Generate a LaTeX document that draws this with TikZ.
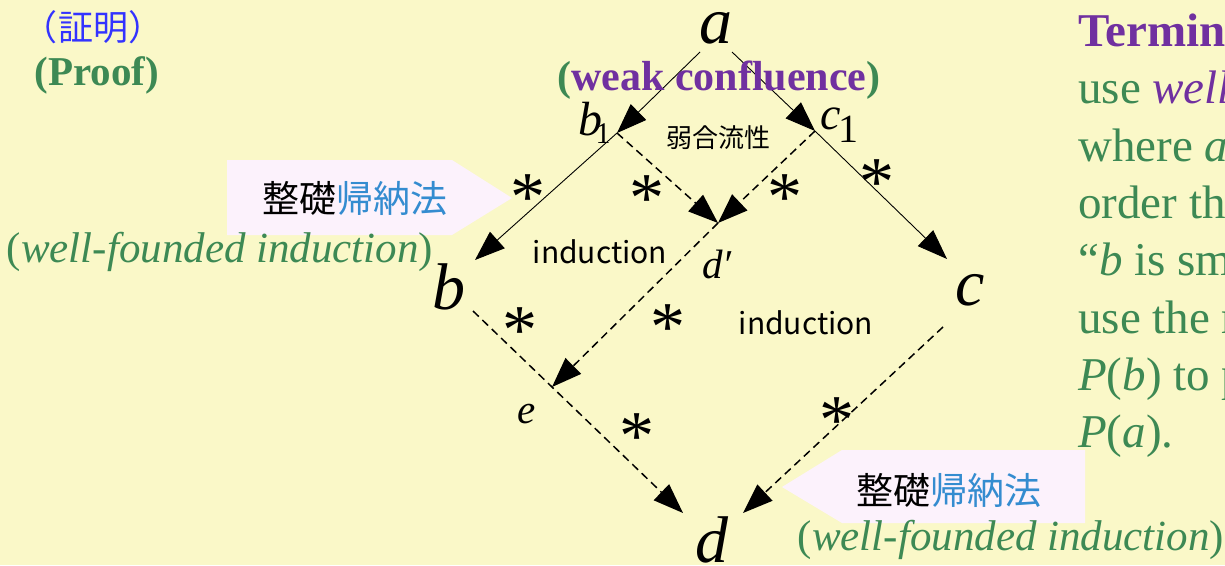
\documentclass[tikz,border=0pt]{standalone}
\usepackage{fontspec}
\setmainfont{Liberation Serif}[ItalicFont={Liberation Serif Italic},BoldFont={Liberation Serif Bold},BoldItalicFont={Liberation Serif Bold Italic}]
\newfontfamily\jp{Noto Sans CJK JP}
\usetikzlibrary{arrows.meta}
\definecolor{bgyellow}{RGB}{250,248,200}
\definecolor{tgreen}{RGB}{61,137,84}
\definecolor{tpurple}{RGB}{112,48,160}
\definecolor{tblue}{RGB}{51,51,255}
\definecolor{kblue}{RGB}{52,140,208}
\definecolor{callfill}{RGB}{252,242,252}
\begin{document}
\begin{tikzpicture}[x=1pt,y=-1pt,
  tipx/.style={-{Triangle[length=30pt,width=22pt]}},
  solidc/.style={draw=black,line width=0.9pt,tipx},
  dashc/.style={draw=black,line width=1.5pt,dash pattern=on 8pt off 5pt,tipx},
  big/.style={font=\fontsize{66}{66}\selectfont\itshape,anchor=base,inner sep=0pt},
  midl/.style={font=\fontsize{41}{41}\selectfont\itshape,anchor=base,inner sep=0pt},
  starx/.style={font=\fontsize{70}{70}\selectfont,anchor=base,inner sep=0pt,yshift=-33pt},
  indl/.style={font=\jp\fontsize{30}{30}\selectfont,anchor=base,inner sep=0pt},
  calltext/.style={font=\jp\fontsize{37}{37}\selectfont,inner sep=0pt},
  wfi/.style={font=\fontsize{43}{43}\selectfont,text=tgreen,anchor=base,inner sep=0pt},
  rline/.style={font=\fontsize{47}{47}\selectfont,text=tgreen,anchor=base west,inner sep=0pt},
  callshape/.style={fill=callfill,draw=none}
]
\fill[bgyellow] (0,0) rectangle (1225,565);
\useasboundingbox (0,0) rectangle (1225,565);
\clip (0,0) rectangle (1225,565);

% callouts
\fill[callshape] (227,160) -- (452,160) -- (512,198) -- (452,235) -- (227,235) -- cycle;
\fill[callshape] (782,487) -- (842,450) -- (1085,450) -- (1085,523) -- (842,523) -- cycle;

% junction coordinates
\coordinate (aL) at (700,52);
\coordinate (aR) at (732,52);
\coordinate (B1) at (617,133);
\coordinate (C1) at (815,131);
\coordinate (bT) at (475,260);
\coordinate (cT) at (947,259);
\coordinate (Dp) at (718,223);
\coordinate (E) at (552,387);
\coordinate (bS) at (473,311);
\coordinate (cS) at (943,327);
\coordinate (dL) at (683,513);
\coordinate (dR) at (743,513);

% connectors
\draw[solidc] (aL) -- (B1);
\draw[solidc] (aR) -- (C1);
\draw[solidc] (B1) -- (bT);
\draw[solidc] (C1) -- (cT);
\draw[dashc] (B1) -- (Dp);
\draw[dashc] (C1) -- (Dp);
\draw[dashc] (Dp) -- (E);
\draw[dashc] (bS) -- (E) -- (dL);
\draw[dashc] (cS) -- (dR);

% letters
\node[big] (a) at (716,43) {a};
\node[big] (b) at (449,309) {b};
\node[big] (c) at (970,305) {c};
\node[big] (d) at (712,562) {d};
\node[midl] (dp) at (717,278) {d′};
\node[midl] (e) at (527,423) {e};
\node[font=\fontsize{48}{48}\selectfont\itshape,anchor=base,inner sep=0pt] (b1) at (590,135) {b};
\node[font=\fontsize{30}{30}\selectfont,anchor=base,inner sep=0pt] (b1s) at (603,143) {1};
\node[font=\fontsize{46}{46}\selectfont\itshape,anchor=base,inner sep=0pt] (c1) at (831,129) {c};
\node[font=\fontsize{40}{40}\selectfont,anchor=base,inner sep=0pt] (c1s) at (848,142) {1};

% stars
\node[starx] (s1) at (528,187) {*};
\node[starx] (s2) at (647,188) {*};
\node[starx] (s3) at (785,187) {*};
\node[starx] (s4) at (877,172) {*};
\node[starx] (s5) at (520,320) {*};
\node[starx] (s6) at (668,317) {*};
\node[starx] (s7) at (637,426) {*};
\node[starx] (s8) at (837,410) {*};

% inner labels
\node[font=\jp\fontsize{26}{26}\selectfont,inner sep=0pt] (wc) at (718,138) {弱合流性};
\node[indl] (ind1) at (600,263) {induction};
\node[indl] (ind2) at (806,334) {induction};
\node[font=\bfseries\fontsize{42}{42}\selectfont,anchor=base,inner sep=0pt] (wconf) at (719,90)
  {\textcolor{tgreen}{(}\textcolor{tpurple}{weak confluence}\textcolor{tgreen}{)}};

% callout texts
\node[calltext] (callL) at (355,198) {整礎\textcolor{kblue}{帰納法}};
\node[calltext] (callR) at (949,490) {整礎\textcolor{kblue}{帰納法}};
\node[wfi] (wfiL) at (220,262) {(\textit{well-founded induction})};
\node[wfi] (wfiR) at (1011,550) {(\textit{well-founded induction})};

% title
\node[font=\jp\fontsize{35}{35}\selectfont,text=tblue,inner sep=0pt] (sho) at (93,27) {（証明）};
\node[font=\bfseries\fontsize{41}{41}\selectfont,text=tgreen,anchor=base,inner sep=0pt] (proof) at (97,85) {(Proof)};

% right column
\node[rline] (r1) at (1078,46) {\textbf{\textcolor{tpurple}{Termin}}};
\node[rline] (r2) at (1078,103) {use \textit{\textcolor{tpurple}{well}}};
\node[rline] (r3) at (1078,161) {where \textit{a}};
\node[rline] (r4) at (1078,218) {order th};
\node[rline] (r5) at (1078,275) {“\textit{b} is sm};
\node[rline] (r6) at (1078,333) {use the r};
\node[rline] (r7) at (1078,390) {\textit{P}(\textit{b}) to p};
\node[rline] (r8) at (1078,447) {\textit{P}(\textit{a}).};
\end{tikzpicture}
\end{document}
